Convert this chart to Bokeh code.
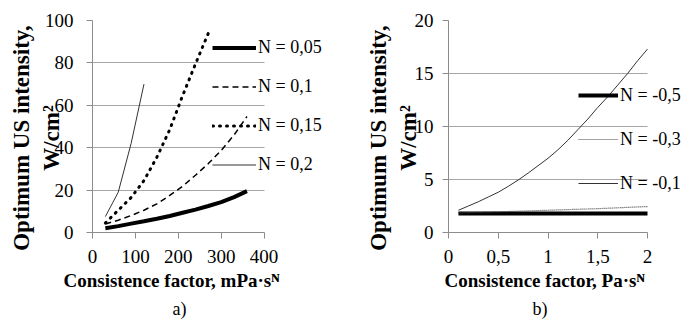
from bokeh.plotting import figure
from bokeh.layouts import row
from bokeh.models import Range1d, FixedTicker, Legend, LegendItem, Title, Grid
from bokeh.embed import file_html
from bokeh.resources import INLINE

# ---------------- data: panel a) ----------------
k_a = [30, 60, 90, 120, 150, 180, 210, 240, 270, 300, 330, 360]
k_a015 = [30, 60, 90, 120, 150, 180, 210, 240, 270]
k_a02 = [30, 60, 90, 120]
i_n005 = [2.0, 3.0, 4.2, 5.3, 6.5, 7.8, 9.3, 10.8, 12.5, 14.3, 16.7, 19.5]
i_n01 = [4.0, 5.8, 8.0, 10.5, 13.5, 17.5, 21.8, 27.0, 32.5, 38.7, 46.0, 54.7]
i_n015 = [4.5, 10.5, 16.5, 24.5, 35.5, 48.5, 64.5, 79.5, 94.0]
i_n02 = [7.5, 19.0, 42.0, 70.0]
labels_a = ["N = 0,05", "N = 0,1", "N = 0,15", "N = 0,2"]
xticks_a = [0, 100, 200, 300, 400]
yticks_a = [0, 20, 40, 60, 80, 100]

# ---------------- data: panel b) ----------------
k_b = [0.1, 0.2, 0.3, 0.4, 0.5, 0.6, 0.7, 0.8, 0.9, 1.0,
       1.1, 1.2, 1.3, 1.4, 1.5, 1.6, 1.7, 1.8, 1.9, 2.0]
k_b2 = [0.1, 0.5, 1.0, 1.5, 2.0]
i_nm05 = [1.8, 1.8, 1.8, 1.8, 1.8]
i_nm03 = [1.85, 1.95, 2.1, 2.25, 2.45]
i_nm01 = [2.1, 2.5, 2.9, 3.35, 3.8, 4.35, 4.95, 5.6, 6.3, 7.0,
          7.8, 8.7, 9.7, 10.7, 11.8, 12.8, 13.9, 15.0, 16.2, 17.3]
labels_b = ["N = -0,5", "N = -0,3", "N = -0,1"]
xticks_b = [0, 0.5, 1, 1.5, 2]
xtick_labels_b = ["0", "0,5", "1", "1,5", "2"]
yticks_b = [0, 5, 10, 15, 20]

SERIF = "'Liberation Serif', 'Times New Roman', serif"
AXIS_COL = "#8c8c8c"
GRID_COL = "#a6a6a6"
HAS_CROSS = "cross_bounds" in Grid.properties()
PAD = "\u00a0" * 4
YTITLE = "Optimum US intensity," + PAD + "\nW/cm²" + PAD


def make_fig(width, bl, bt, bb, xmax, plot_px, yr, xticks, yticks, xlabel, letter, xl_off, let_off):
    # the frame runs to the figure's right edge so that the legend (which overlaps
    # the plot area in the original) is not clipped; the axis and grid stop at xmax.
    frame_w = width - bl
    x_end = xmax * frame_w / plot_px
    p = figure(width=width, height=321, x_range=Range1d(0, x_end), y_range=Range1d(*yr),
               output_backend="svg", toolbar_location=None,
               min_border_left=bl, min_border_right=0,
               min_border_top=bt, min_border_bottom=bb)
    p.outline_line_color = None
    p.xgrid.visible = False
    if HAS_CROSS:
        p.ygrid.cross_bounds = (0, xmax)
        p.ygrid.grid_line_color = GRID_COL
    else:
        p.ygrid.visible = False
        p.segment(x0=0, x1=xmax, y0=yticks, y1=yticks, line_color=GRID_COL, line_width=1)
    p.xaxis.bounds = (0, xmax)
    p.xaxis.ticker = FixedTicker(ticks=xticks)
    p.yaxis.ticker = FixedTicker(ticks=yticks)
    for ax in (p.xaxis[0], p.yaxis[0]):
        ax.axis_line_color = AXIS_COL
        ax.major_tick_line_color = AXIS_COL
        ax.minor_tick_line_color = None
        ax.major_tick_in = 0
        ax.major_tick_out = 6
        ax.major_label_text_font = SERIF
        ax.major_label_text_font_size = "19px"
        ax.major_label_text_color = "black"
        ax.axis_label_text_font = SERIF
        ax.axis_label_text_font_style = "bold"
        ax.axis_label_text_color = "black"
    p.yaxis.axis_label_text_font_size = "23px"
    p.xaxis.major_label_standoff = 11
    p.yaxis.axis_label = YTITLE
    p.add_layout(Title(text=xlabel, align="left", offset=xl_off, standoff=5,
                       text_font=SERIF, text_font_size="19px", text_font_style="bold",
                       text_color="black"), "below")
    p.add_layout(Title(text=letter, align="left", offset=let_off, standoff=6,
                       text_font=SERIF, text_font_size="18px", text_font_style="normal",
                       text_color="black"), "below")
    return p


# ---------------- panel a) ----------------
pa = make_fig(345, 92, 20, 89, 400, 171.6, (0, 100), xticks_a, yticks_a,
              "Consistence factor, mPa·sᴺ", "a)", -29, 80)
pa.yaxis.major_label_standoff = 13
pa.yaxis.axis_label_standoff = -22

ra1 = pa.line(k_a, i_n005, line_color="black", line_width=4)
ra2 = pa.line(k_a, i_n01, line_color="black", line_width=1.5, line_dash="6 4")
ra3 = pa.line(k_a015, i_n015, line_color="black", line_width=3, line_dash="1 6", line_cap="round")
ra4 = pa.line(k_a02, i_n02, line_color="#333333", line_width=1)

leg_a = Legend(items=[LegendItem(label=l, renderers=[r]) for l, r in zip(labels_a, [ra1, ra2, ra3, ra4])],
               location=(120, 56), glyph_width=44, glyph_height=23, label_height=23,
               label_standoff=2, spacing=16, padding=0, margin=0,
               border_line_color=None, background_fill_alpha=0,
               label_text_font=SERIF, label_text_font_size="18px", label_text_color="black")
pa.add_layout(leg_a)

# ---------------- panel b) ----------------
pb = make_fig(346, 103, 19, 88, 2, 199.0, (0, 20), xticks_b, yticks_b,
              "Consistence factor, Pa·sᴺ", "b)", -4, 84)
pb.xaxis.major_label_overrides = {t: s for t, s in zip(xticks_b, xtick_labels_b)}
pb.yaxis.major_label_standoff = 9
pb.yaxis.axis_label_standoff = -9

rb1 = pb.line(k_b2, i_nm05, line_color="black", line_width=4)
rb2 = pb.line(k_b2, i_nm03, line_color="#444444", line_width=1.2, line_dash="1 1")
rb3 = pb.line(k_b, i_nm01, line_color="#333333", line_width=1)

leg_b = Legend(items=[LegendItem(label=l, renderers=[r]) for l, r in zip(labels_b, [rb1, rb2, rb3])],
               location=(130, 38), glyph_width=40, glyph_height=22, label_height=22,
               label_standoff=2, spacing=22, padding=0, margin=0,
               border_line_color=None, background_fill_alpha=0,
               label_text_font=SERIF, label_text_font_size="18px", label_text_color="black")
pb.add_layout(leg_b)

layout = row(pa, pb)
open("out.html", "w").write(file_html(layout, INLINE))
